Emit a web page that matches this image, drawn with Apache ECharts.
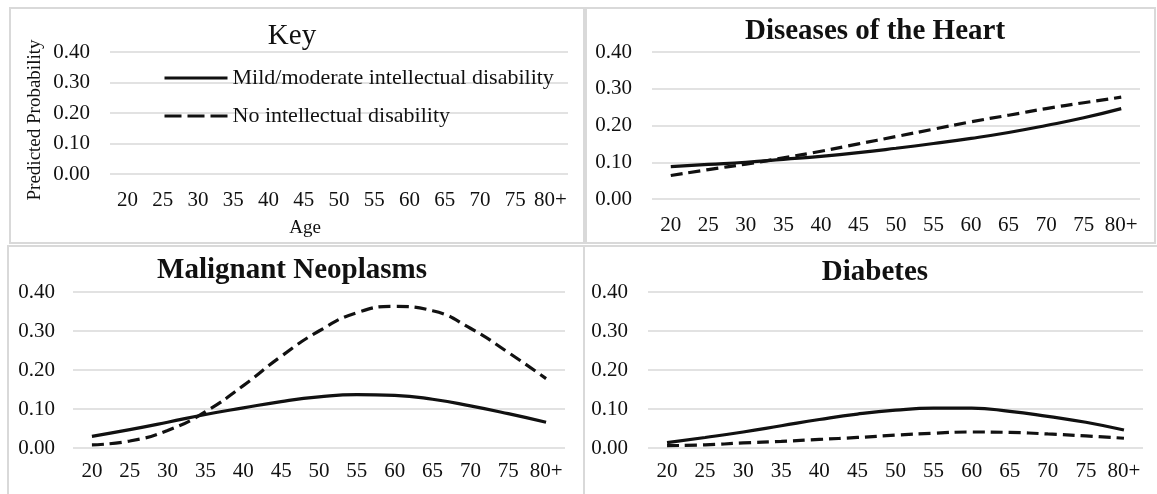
<!DOCTYPE html>
<html>
<head>
<meta charset="utf-8">
<title>Predicted probability by age</title>
<script src="https://cdn.jsdelivr.net/npm/echarts@6/dist/echarts.min.js"></script>
<style>
  html, body { margin: 0; padding: 0; background: #fff; }
  #chart { width: 1157px; height: 494px; }
</style>
</head>
<body>
<div id="chart"></div>
<script>
// Age groups on the horizontal axis
const ages = ['20', '25', '30', '35', '40', '45', '50', '55', '60', '65', '70', '75', '80+'];

// Series names
const nameID = 'Mild/moderate intellectual disability';
const nameNoID = 'No intellectual disability';

// Diseases of the Heart
const heartID   = [0.088, 0.094, 0.100, 0.108, 0.116, 0.126, 0.138, 0.151, 0.165, 0.181, 0.200, 0.221, 0.246];
const heartNoID = [0.064, 0.080, 0.095, 0.112, 0.130, 0.150, 0.170, 0.190, 0.210, 0.228, 0.246, 0.262, 0.277];

// Malignant Neoplasms
const cancerID   = [0.030, 0.047, 0.066, 0.086, 0.103, 0.119, 0.131, 0.137, 0.135, 0.125, 0.108, 0.088, 0.066];
const cancerNoID = [0.008, 0.018, 0.045, 0.093, 0.160, 0.235, 0.300, 0.347, 0.363, 0.352, 0.307, 0.245, 0.178];

// Diabetes
const diabetesID   = [0.014, 0.027, 0.041, 0.057, 0.073, 0.087, 0.097, 0.102, 0.102, 0.094, 0.081, 0.066, 0.046];
const diabetesNoID = [0.006, 0.008, 0.013, 0.017, 0.022, 0.027, 0.033, 0.038, 0.041, 0.040, 0.036, 0.031, 0.025];

// Y axis range
const yMin = 0, yMax = 0.4, yStep = 0.1;

const SERIF = "'Liberation Serif', 'Times New Roman', serif";
const GRID_GRAY = '#d9d9d9';
const INK = '#111';
const DASH = [12, 6];

// Plot areas of the four panels
const grids = [
  { left: 110, top: 52,  width: 458, height: 122 },
  { left: 652, top: 52,  width: 488, height: 147 },
  { left: 73,  top: 292, width: 492, height: 156 },
  { left: 648, top: 292, width: 495, height: 156 }
];

function xAxisFor(i) {
  return {
    type: 'category', gridIndex: i, data: ages, boundaryGap: true,
    axisLine: { show: false }, axisTick: { show: false },
    axisLabel: { interval: 0, margin: i < 2 ? 16 : 13, color: INK, fontFamily: SERIF, fontSize: 21 }
  };
}
function yAxisFor(i) {
  return {
    type: 'value', gridIndex: i, min: yMin, max: yMax, interval: yStep,
    axisLine: { show: false }, axisTick: { show: false },
    splitLine: { lineStyle: { color: GRID_GRAY, width: 1.5 } },
    axisLabel: { margin: i === 2 ? 18 : 20, color: INK, fontFamily: SERIF, fontSize: 21,
                 formatter: v => v.toFixed(2) }
  };
}
function lineSeries(name, data, gi, dashed) {
  return {
    type: 'line', name, data, xAxisIndex: gi, yAxisIndex: gi,
    smooth: true, symbol: 'none', silent: true,
    lineStyle: { color: INK, width: 3.2, type: dashed ? DASH : 'solid' },
    itemStyle: { color: INK }
  };
}

function panelBox(x, y, w, h) {
  return { type: 'rect', shape: { x, y, width: w, height: h }, silent: true,
           style: { fill: 'none', stroke: GRID_GRAY, lineWidth: 2 } };
}
function label(text, x, y, font, rotation) {
  return { type: 'text', x, y, rotation: rotation || 0, silent: true,
           style: { text, font, fill: INK, align: 'center', verticalAlign: 'middle' } };
}

const chart = echarts.init(document.getElementById('chart'), null, { renderer: 'canvas' });

chart.setOption({
  backgroundColor: '#fff',
  animation: false,
  grid: grids.map(g => Object.assign({ containLabel: false }, g)),
  xAxis: [0, 1, 2, 3].map(xAxisFor),
  yAxis: [0, 1, 2, 3].map(yAxisFor),
  legend: {
    orient: 'vertical', left: 163, top: 67, itemWidth: 63, itemHeight: 14, itemGap: 16,
    padding: 0, selectedMode: false,
    textStyle: { color: INK, fontFamily: SERIF, fontSize: 22 },
    data: [
      { name: nameID, itemStyle: { opacity: 0 }, lineStyle: { type: 'solid', width: 3 } },
      { name: nameNoID, itemStyle: { opacity: 0 }, lineStyle: { type: [17, 6], width: 3 } }
    ]
  },
  series: [
    lineSeries(nameID, heartID, 1, false),
    lineSeries(nameNoID, heartNoID, 1, true),
    lineSeries(nameID, cancerID, 2, false),
    lineSeries(nameNoID, cancerNoID, 2, true),
    lineSeries(nameID, diabetesID, 3, false),
    lineSeries(nameNoID, diabetesNoID, 3, true)
  ],
  graphic: [
    panelBox(10, 8, 574, 235),
    panelBox(586, 8, 569, 235),
    panelBox(8, 246, 576, 250),
    panelBox(584, 246, 575, 250),
    label('Key', 292, 36, '29px ' + SERIF),
    label('Diseases of the Heart', 875, 32, 'bold 29px ' + SERIF),
    label('Malignant Neoplasms', 292, 271, 'bold 29px ' + SERIF),
    label('Diabetes', 875, 273, 'bold 29px ' + SERIF),
    label('Predicted Probability', 35, 120, '19px ' + SERIF, Math.PI / 2),
    label('Age', 305, 228, '19px ' + SERIF)
  ]
});
</script>
</body>
</html>
